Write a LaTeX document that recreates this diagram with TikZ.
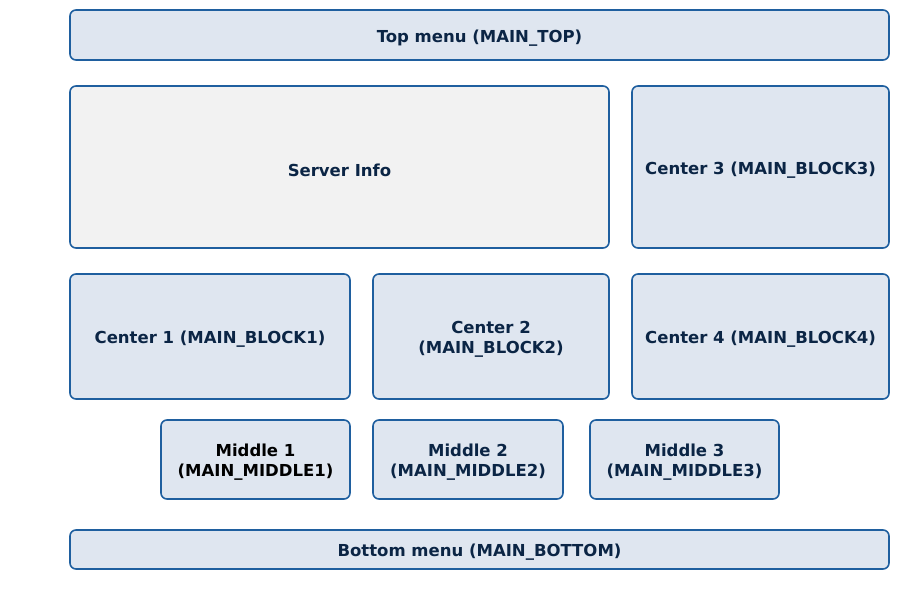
\documentclass[tikz,border=0pt]{standalone}
\usepackage{fontspec}
\setmainfont{DejaVu Sans}
\definecolor{boxfill}{HTML}{DFE6F0}
\definecolor{boxline}{HTML}{1F5F9F}
\definecolor{infofill}{HTML}{F2F2F2}
\definecolor{navy}{HTML}{0B2545}
\tikzset{
  box/.style={draw=boxline, line width=1.6pt, fill=boxfill, rounded corners=6pt,
    inner sep=0pt, outer sep=0pt},
  boxtext/.style={inner sep=0pt, align=center, text=navy,
    font=\fontsize{16.5}{20}\selectfont\bfseries},
}
\newcommand{\pbox}[8]{% name, x1, y1, x2, y2, box style, text style, text
  \node[box, #6, minimum width={#4-#2}, minimum height={#5-#3}] (#1)
    at ({(#2+#4)/2},{(#3+#5)/2}) {};
  \node[boxtext, #7] (#1-t) at ([yshift=-3pt]#1.center) {#8};}
\begin{document}
\begin{tikzpicture}[x=1pt,y=-1pt]
\useasboundingbox (0,0) rectangle (912,590);
\pbox{top}{70}{10}{889}{60}{}{}{Top menu (MAIN\_TOP)}
\pbox{info}{70}{86}{609}{248}{fill=infofill}{}{Server Info}
\pbox{c3}{632}{86}{889}{248}{}{}{Center 3 (MAIN\_BLOCK3)}
\pbox{c1}{70}{274}{350}{399}{}{}{Center 1 (MAIN\_BLOCK1)}
\pbox{c2}{373}{274}{609}{399}{}{}{Center 2\\(MAIN\_BLOCK2)}
\pbox{c4}{632}{274}{889}{399}{}{}{Center 4 (MAIN\_BLOCK4)}
\pbox{m1}{161}{420}{350}{499}{}{text=black}{Middle 1\\(MAIN\_MIDDLE1)}
\pbox{m2}{373}{420}{563}{499}{}{}{Middle 2\\(MAIN\_MIDDLE2)}
\pbox{m3}{590}{420}{779}{499}{}{}{Middle 3\\(MAIN\_MIDDLE3)}
\pbox{bot}{70}{530}{889}{569}{}{}{Bottom menu (MAIN\_BOTTOM)}
\end{tikzpicture}
\end{document}
